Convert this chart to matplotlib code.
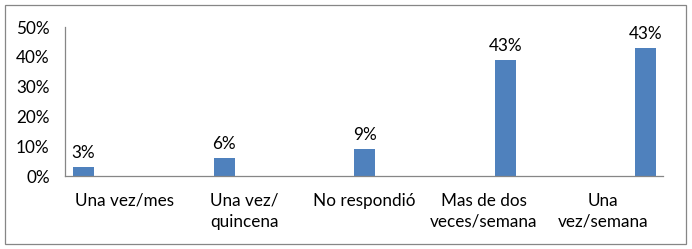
import numpy as np
import matplotlib.pyplot as plt
from matplotlib.patches import Rectangle

categorias = ['Una vez/mes', 'Una vez/\nquincena', 'No respondió',
              'Mas de dos\nveces/semana', 'Una\nvez/semana']
valores = [3, 6, 9, 39, 43]
etiquetas = ['3%', '6%', '9%', '43%', '43%']

plt.rcParams['font.family'] = ['Lato', 'DejaVu Sans']

fig = plt.figure(figsize=(6.92, 2.49), dpi=100)
ax = fig.add_axes([65 / 692, 73 / 249, 598 / 692, 149 / 249])

# each category holds its own series, like an excel clustered chart
n = len(categorias)
ancho = 0.1756
izq = 8 / 119.6
x = np.arange(n) - 0.5 + izq + ancho * (np.arange(n) + 0.5)

ax.bar(x, valores, width=ancho, color='#4F81BD')
for xi, v, t in zip(x, valores, etiquetas):
    ax.text(xi, v + 2.0, t, ha='center', va='bottom', fontsize=12.3, color='#000000')

ax.set_xlim(-0.5, n - 0.5)
ax.set_ylim(0, 50)
ax.set_yticks(range(0, 51, 10))
ax.set_yticklabels([f'{v}%' for v in range(0, 51, 10)], fontsize=12.3)
ax.set_xticks(range(n))
ax.set_xticklabels(categorias, fontsize=12.3, linespacing=1.4)
ax.tick_params(axis='x', length=0, pad=12)
ax.tick_params(axis='y', length=0, pad=11)

for s in ['top', 'right']:
    ax.spines[s].set_visible(False)
for s in ['left', 'bottom']:
    ax.spines[s].set_color('#868686')
    ax.spines[s].set_linewidth(0.9)

fig.patches.append(Rectangle((5 / 692, 5 / 249), 681 / 692, 239 / 249,
                             transform=fig.transFigure, fill=False,
                             edgecolor='#868686', linewidth=0.9))

fig.savefig('out.png', dpi=100)
